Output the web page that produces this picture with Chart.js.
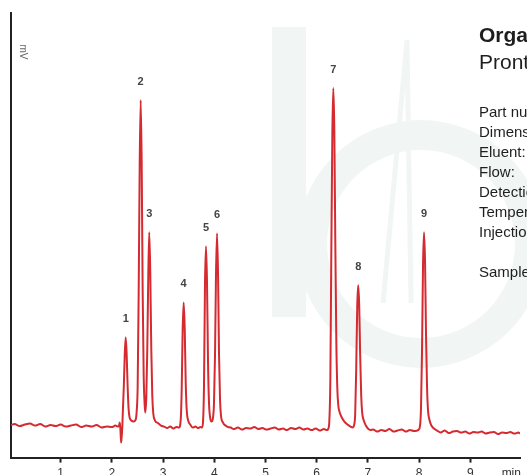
<!DOCTYPE html>
<html>
<head>
<meta charset="utf-8">
<script src="https://cdn.jsdelivr.net/npm/chart.js@4.4.1/dist/chart.umd.min.js"></script>
<style>
  html, body { margin: 0; padding: 0; background: #fff; }
  body { width: 527px; height: 475px; overflow: hidden; position: relative; }
  #chartBox { position: absolute; left: 0; top: 0; width: 527px; height: 485px; }
  .info { position: absolute; left: 479px; color: #1e1e1e; font-family: "Liberation Sans", Arial, sans-serif; white-space: nowrap; }
  .title { font-size: 21px; line-height: 21px; }
  .title.bold { font-weight: bold; top: 24px; }
  .title.sub { top: 51px; }
  .specs { top: 102px; font-size: 15px; line-height: 20px; }
</style>
</head>
<body>
<div id="chartBox"><canvas id="chromChart"></canvas></div>
<div class="info title bold">Organic Acids</div>
<div class="info title sub">Prontosil</div>
<div class="info specs">
  Part number:<br>
  Dimensions:<br>
  Eluent:<br>
  Flow:<br>
  Detection:<br>
  Temperature:<br>
  Injection:<br>
  <br>
  Sample:
</div>
<script>
// Retention time (min) and detector signal (mV, arbitrary)
const timeMin = [
  0.03, 0.1, 0.2, 0.3, 0.4, 0.5, 0.6, 0.7, 0.8, 0.9,
  1.0, 1.1, 1.2, 1.3, 1.4, 1.5, 1.6, 1.7, 1.8, 1.9,
  2.0, 2.07, 2.12, 2.14, 2.155, 2.168, 2.18, 2.19, 2.203, 2.215,
  2.235, 2.252, 2.27, 2.288, 2.307, 2.326, 2.346, 2.38, 2.42, 2.465,
  2.484, 2.504, 2.523, 2.543, 2.5625, 2.582, 2.601, 2.621, 2.641, 2.652,
  2.672, 2.691, 2.711, 2.73, 2.75, 2.769, 2.789, 2.809, 2.842, 2.9,
  2.96, 3.02, 3.08, 3.14, 3.2, 3.26, 3.31, 3.343, 3.363, 3.382,
  3.402, 3.422, 3.441, 3.461, 3.49, 3.53, 3.58, 3.63, 3.68, 3.73,
  3.76, 3.779, 3.799, 3.818, 3.838, 3.858, 3.877, 3.897, 3.916, 3.945,
  3.975, 3.994, 4.014, 4.033, 4.053, 4.073, 4.092, 4.112, 4.131, 4.17,
  4.22, 4.27, 4.32, 4.38, 4.46, 4.54, 4.62, 4.7, 4.78, 4.86,
  4.94, 5.02, 5.1, 5.18, 5.26, 5.34, 5.42, 5.5, 5.58, 5.66,
  5.74, 5.82, 5.9, 5.98, 6.06, 6.14, 6.2, 6.227, 6.246, 6.266,
  6.285, 6.305, 6.324, 6.344, 6.363, 6.383, 6.402, 6.422, 6.45, 6.49,
  6.54, 6.6, 6.66, 6.7, 6.732, 6.752, 6.771, 6.791, 6.81, 6.83,
  6.849, 6.869, 6.888, 6.92, 6.96, 7.0, 7.05, 7.1, 7.18, 7.26,
  7.34, 7.42, 7.5, 7.58, 7.66, 7.74, 7.82, 7.9, 7.96, 7.99,
  8.018, 8.037, 8.057, 8.076, 8.096, 8.116, 8.135, 8.155, 8.174, 8.2,
  8.24, 8.29, 8.35, 8.42, 8.5, 8.58, 8.66, 8.74, 8.82, 8.9,
  8.98, 9.06, 9.14, 9.22, 9.3, 9.38, 9.46, 9.54, 9.62, 9.7,
  9.78, 9.86, 9.94, 9.97
];
const signalMv = [
  0.5, 1.5, -0.5, 1, 2, 0, 1.5, -1, 0.5, -0.5,
  1, -1, 0, 1, -1.5, 0, -1, 0.5, -2, -1,
  -1.5, 0, -1, 0, 3, -5, -17, -12, -2, 15,
  42, 72, 88, 72, 40, 17, 8, 5, 4, 6,
  14, 40, 130, 260, 325, 262, 135, 50, 20, 13,
  28, 75, 150, 193, 152, 78, 30, 12, 5, 2.5,
  0, -1, -2.5, -1, -3, -1.5, -2, 5, 35, 95,
  123, 98, 45, 16, 5, 1, -2, -1, -2.5, -1.5,
  -2, 3, 40, 140, 179, 142, 65, 22, 9, 4,
  8, 22, 70, 150, 192, 152, 72, 26, 10, 3,
  0, -1.5, -2, -3.5, -2, -4, -2.5, -3, -1.5, -3.5,
  -2.5, -4, -3, -2, -4, -3, -4.5, -2.5, -3.5, -2,
  -4, -3, -4.5, -3, -5, -3.5, -4.5, -3, 4, 45,
  170, 290, 337, 295, 185, 85, 38, 20, 13, 8,
  4, 1, -1, -2, 1, 12, 55, 118, 140, 120,
  70, 30, 13, 5, 0, -3, -4.5, -4, -6, -4.5,
  -5.5, -3.5, -6, -5, -4, -6, -4.5, -5.5, -5, -4,
  0, 18, 75, 160, 193, 162, 90, 38, 15, 6,
  0, -3, -5, -7, -5, -7.5, -6, -5.5, -7, -6,
  -8, -6.5, -7, -6, -8, -7, -6.5, -8.5, -7, -7.5,
  -6.5, -8, -7, -8
];

// Numbered peaks
const peakNames = ['1', '2', '3', '4', '5', '6', '7', '8', '9'];
const peakTimes = [2.27, 2.5625, 2.73, 3.402, 3.838, 4.053, 6.324, 6.81, 8.096];
const peakHeights = [88, 325, 193, 123, 179, 192, 337, 140, 193];

// X axis ticks
const xTickValues = [1, 2, 3, 4, 5, 6, 7, 8, 9, 9.8];
const xTickLabels = ['1', '2', '3', '4', '5', '6', '7', '8', '9', 'min'];

Chart.defaults.font.family = '"Liberation Sans", Arial, sans-serif';

// Faint logo watermark, peak numbers and the mV label
const decorPlugin = {
    id: 'decor',
    beforeDraw(chart) {
        const ctx = chart.ctx;
        ctx.save();
        ctx.fillStyle = '#f1f6f4';
        ctx.strokeStyle = '#f1f6f4';
        ctx.fillRect(272, 27, 34, 290);
        ctx.beginPath();
        ctx.arc(421, 244, 124, 0, Math.PI * 2);
        ctx.arc(421, 244, 94, 0, Math.PI * 2, true);
        ctx.fill();
        ctx.lineWidth = 5;
        ctx.beginPath();
        ctx.moveTo(383, 303);
        ctx.lineTo(407, 40);
        ctx.lineTo(411, 303);
        ctx.stroke();
        ctx.restore();
    },
    afterDatasetsDraw(chart) {
        const ctx = chart.ctx;
        const xScale = chart.scales.x;
        const yScale = chart.scales.y;
        ctx.save();
        ctx.fillStyle = '#444';
        ctx.font = 'bold 11px "Liberation Sans", Arial, sans-serif';
        ctx.textAlign = 'center';
        ctx.textBaseline = 'middle';
        peakNames.forEach((name, i) => {
            const x = xScale.getPixelForValue(peakTimes[i]);
            const y = yScale.getPixelForValue(peakHeights[i]) - 18.5;
            ctx.fillText(name, x, y);
        });

        // Rotated unit label beside the y axis
        ctx.fillStyle = '#666';
        ctx.font = '10px "Liberation Sans", Arial, sans-serif';
        ctx.translate(chart.chartArea.left + 12, chart.chartArea.top + 39);
        ctx.rotate(Math.PI / 2);
        ctx.fillText('mV', 0, 0);
        ctx.restore();
    }
};

function initializeChart() {
    const ctx = document.getElementById('chromChart').getContext('2d');
    return new Chart(ctx, {
        type: 'line',
        data: {
            datasets: [{
                label: 'Signal',
                data: timeMin.map((t, i) => ({ x: t, y: signalMv[i] })),
                borderColor: '#d42a30',
                borderWidth: 2,
                pointRadius: 0,
                cubicInterpolationMode: 'monotone',
                borderJoinStyle: 'round',
                fill: false
            }]
        },
        options: {
            responsive: true,
            maintainAspectRatio: false,
            animation: false,
            layout: {
                padding: { top: 13, left: 11, right: 7, bottom: 0 }
            },
            scales: {
                x: {
                    type: 'linear',
                    min: 0.03,
                    max: 9.97,
                    afterBuildTicks: (axis) => {
                        axis.ticks = xTickValues.map(v => ({ value: v }));
                    },
                    ticks: {
                        autoSkip: false,
                        maxRotation: 0,
                        padding: 4,
                        color: '#333',
                        font: { size: 12 },
                        callback: (value, index) => xTickLabels[index]
                    },
                    grid: {
                        display: true,
                        drawOnChartArea: false,
                        drawTicks: true,
                        tickLength: 5,
                        tickWidth: 2,
                        tickColor: (c) => (c.tick && c.tick.value === 9.8) ? 'rgba(0,0,0,0)' : '#222'
                    },
                    border: { display: true, color: '#222', width: 2 }
                },
                y: {
                    min: -32,
                    max: 412,
                    ticks: { display: false },
                    grid: { display: false, drawTicks: false },
                    border: { display: true, color: '#222', width: 2 }
                }
            },
            plugins: {
                legend: { display: false },
                tooltip: { enabled: false }
            }
        },
        plugins: [decorPlugin]
    });
}

document.addEventListener('DOMContentLoaded', () => {
    initializeChart();
});
</script>
</body>
</html>
